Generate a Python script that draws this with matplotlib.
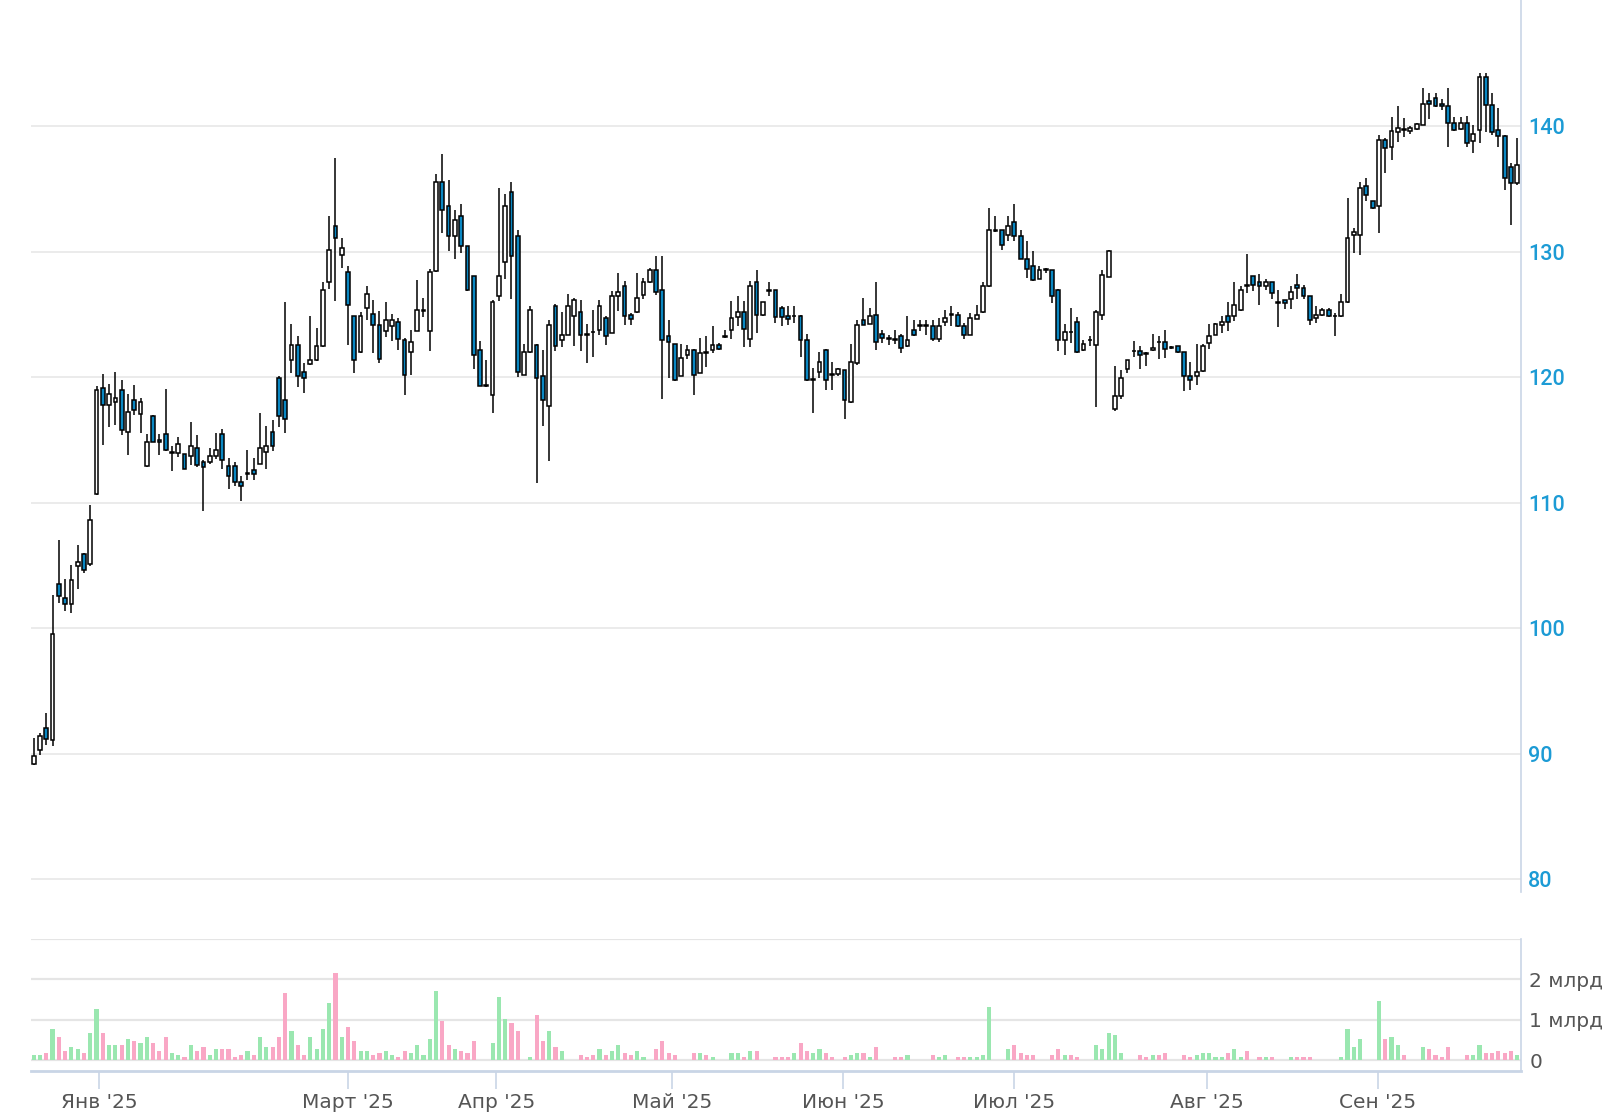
import numpy as np
import matplotlib.pyplot as plt

# daily candles, price in rubles
opens = [89.20, 90.33, 92.08, 91.12, 103.53, 102.42, 101.91, 104.96, 105.92, 105.10,
         110.66, 119.12, 117.82, 118.01, 118.96, 115.62, 118.17, 117.06, 112.89, 116.90,
         114.99, 115.46, 114.00, 113.98, 113.87, 113.71, 114.35, 113.24, 113.24, 113.71,
         115.46, 112.92, 112.92, 111.65, 112.28, 112.60, 113.08, 114.03, 115.62, 119.92,
         118.20, 121.35, 122.60, 120.40, 121.03, 121.40, 122.46, 127.55, 132.01, 129.76,
         128.35, 124.85, 121.99, 125.49, 125.04, 124.19, 123.71, 124.05, 124.37, 122.94,
         121.99, 123.71, 125.30, 123.71, 128.46, 135.51, 133.60, 131.21, 132.81, 130.42,
         128.03, 122.15, 119.30, 118.62, 126.44, 129.15, 134.71, 131.21, 120.21, 121.99,
         122.60, 120.08, 117.69, 125.64, 122.94, 123.39, 124.85, 125.16, 123.40, 123.58,
         123.73, 124.71, 123.52, 126.44, 127.23, 124.98, 125.16, 126.57, 127.55, 128.50,
         126.91, 123.25, 122.64, 120.13, 121.80, 122.14, 120.34, 121.94, 122.14, 122.59,
         123.26, 123.73, 124.79, 125.16, 123.04, 127.55, 124.98, 126.88, 126.91, 125.48,
         124.85, 124.84, 124.90, 122.99, 119.79, 120.39, 122.14, 120.22, 120.29, 120.55,
         118.01, 121.14, 124.53, 124.26, 124.98, 123.47, 123.05, 123.02, 123.31, 122.46,
         123.73, 124.12, 124.12, 124.05, 123.04, 124.37, 124.99, 124.98, 124.05, 123.39,
         124.64, 125.17, 127.23, 131.70, 131.69, 131.34, 132.33, 131.21, 129.41, 128.83,
         127.82, 128.57, 128.51, 126.97, 122.94, 123.58, 124.37, 122.14, 122.95, 122.59,
         124.98, 127.98, 117.48, 118.48, 120.66, 122.07, 122.06, 121.92, 122.14, 122.79,
         122.78, 122.34, 122.46, 121.98, 120.08, 120.08, 120.47, 122.73, 123.39, 124.19,
         124.85, 124.85, 125.33, 127.37, 128.03, 127.55, 127.30, 127.55, 125.92, 126.12,
         126.23, 127.37, 127.10, 126.44, 124.72, 124.98, 125.38, 124.86, 124.85, 125.96,
         131.35, 131.35, 135.19, 134.00, 133.60, 138.91, 138.32, 139.49, 139.71, 139.57,
         139.75, 140.10, 142.03, 142.22, 141.77, 141.56, 140.28, 139.75, 140.28, 138.85,
         139.65, 143.94, 141.69, 139.65, 139.17, 136.73, 135.46]
highs = [91.30, 91.65, 93.22, 102.63, 107.06, 103.90, 105.02, 106.61, 105.97, 109.79,
         119.28, 120.29, 119.49, 120.42, 119.81, 118.70, 119.34, 118.35, 115.49, 116.95,
         115.49, 119.02, 114.51, 115.20, 113.90, 116.47, 115.36, 113.40, 114.35, 115.52,
         115.84, 113.58, 113.26, 112.12, 114.24, 113.58, 117.11, 116.15, 116.63, 120.13,
         125.99, 124.24, 123.26, 121.14, 124.90, 123.92, 127.55, 132.86, 137.45, 131.08,
         128.88, 124.90, 125.17, 127.29, 126.12, 125.25, 125.99, 125.06, 124.72, 123.13,
         123.79, 127.77, 126.31, 128.62, 136.20, 137.79, 135.72, 133.34, 133.81, 130.45,
         128.06, 122.86, 121.40, 126.18, 135.06, 134.61, 135.51, 131.74, 122.68, 125.65,
         122.65, 122.20, 124.58, 125.85, 125.16, 126.65, 126.30, 126.12, 124.26, 125.38,
         126.12, 124.85, 126.83, 128.29, 127.63, 125.11, 128.29, 127.90, 128.69, 129.67,
         129.67, 124.58, 122.67, 122.67, 122.59, 122.25, 123.12, 123.25, 124.05, 122.72,
         123.78, 126.04, 126.49, 126.04, 127.63, 128.50, 125.96, 127.55, 126.95, 125.64,
         125.64, 125.64, 124.95, 123.47, 120.73, 121.98, 122.28, 121.19, 120.70, 120.60,
         122.67, 124.58, 126.31, 125.51, 127.55, 123.73, 123.39, 123.73, 123.47, 124.90,
         124.58, 124.58, 124.53, 124.58, 124.72, 125.32, 125.64, 125.17, 124.32, 125.11,
         125.78, 127.55, 133.47, 132.80, 131.74, 132.80, 133.81, 131.69, 130.81, 130.02,
         128.88, 128.69, 128.55, 127.00, 124.26, 125.51, 124.79, 122.99, 123.26, 125.32,
         128.56, 130.15, 120.87, 120.55, 121.38, 122.86, 122.52, 122.00, 123.47, 123.31,
         123.79, 122.52, 122.50, 122.00, 121.19, 122.67, 122.67, 124.27, 124.30, 124.90,
         125.96, 127.55, 127.29, 129.83, 128.06, 128.24, 127.82, 127.58, 126.97, 126.17,
         127.29, 128.24, 127.37, 126.47, 125.64, 125.51, 125.51, 125.11, 126.65, 134.27,
         131.88, 135.51, 135.86, 134.03, 139.30, 139.04, 140.76, 141.61, 140.63, 139.97,
         140.28, 143.02, 142.62, 142.67, 142.14, 143.02, 140.71, 140.76, 140.82, 140.10,
         144.26, 144.26, 142.62, 141.42, 139.30, 137.05, 139.04]
lows = [89.10, 89.93, 90.72, 90.59, 102.05, 101.38, 101.25, 103.16, 104.43, 105.00,
        110.60, 114.59, 116.02, 116.18, 115.41, 113.82, 117.00, 115.57, 112.85, 114.80,
        113.82, 114.15, 112.52, 113.66, 112.68, 113.02, 112.87, 109.34, 113.05, 113.50,
        112.71, 111.12, 111.33, 110.13, 111.80, 111.80, 113.05, 112.71, 114.14, 116.05,
        115.57, 120.34, 119.23, 118.75, 120.98, 121.27, 122.40, 127.02, 126.04, 128.70,
        122.60, 120.34, 121.95, 124.58, 121.93, 121.14, 123.21, 122.86, 122.20, 118.57,
        120.21, 123.70, 124.80, 122.07, 128.40, 131.48, 130.02, 129.41, 129.89, 126.90,
        120.66, 119.28, 119.25, 117.16, 126.04, 127.82, 126.23, 120.02, 120.18, 121.95,
        111.60, 116.10, 113.31, 122.06, 122.41, 123.35, 122.46, 122.06, 121.13, 121.61,
        123.39, 122.59, 123.50, 125.24, 124.18, 124.18, 125.11, 126.22, 127.50, 126.57,
        118.27, 119.94, 119.72, 120.07, 121.45, 118.61, 120.30, 120.81, 121.93, 122.19,
        123.12, 123.04, 124.05, 122.41, 122.41, 123.52, 124.85, 126.44, 124.31, 124.10,
        124.18, 124.31, 121.61, 119.67, 117.15, 119.94, 119.01, 119.01, 120.07, 116.68,
        117.98, 121.00, 124.15, 124.22, 122.14, 122.73, 122.59, 122.67, 121.93, 122.43,
        123.26, 123.65, 123.39, 122.86, 122.78, 124.05, 124.11, 124.02, 123.04, 123.36,
        124.60, 125.13, 127.20, 131.53, 130.15, 130.81, 130.81, 129.38, 127.90, 127.63,
        127.79, 128.30, 125.91, 122.07, 121.80, 122.73, 121.95, 122.10, 122.51, 117.63,
        124.58, 127.95, 117.29, 118.30, 120.34, 121.61, 120.66, 120.87, 122.06, 121.45,
        121.53, 122.25, 121.95, 118.88, 118.96, 119.41, 120.44, 122.25, 123.36, 123.52,
        123.66, 124.45, 125.30, 126.71, 126.84, 125.78, 126.92, 126.23, 124.00, 125.43,
        125.43, 126.23, 126.23, 124.19, 124.32, 124.90, 124.82, 123.31, 124.82, 125.93,
        129.89, 129.76, 134.00, 133.39, 131.48, 136.25, 137.26, 138.77, 139.12, 139.38,
        139.70, 140.07, 140.55, 141.53, 141.24, 138.32, 139.62, 139.72, 138.32, 137.85,
        138.64, 139.49, 139.30, 138.32, 134.88, 132.14, 135.33]
closes = [89.85, 91.44, 91.17, 99.58, 102.58, 101.91, 103.85, 105.28, 104.65, 108.62,
          118.96, 117.82, 118.65, 118.33, 115.78, 117.21, 117.37, 118.01, 114.83, 114.83,
          114.83, 114.19, 114.06, 114.67, 112.71, 114.51, 113.02, 112.87, 113.71, 114.19,
          113.40, 112.12, 111.65, 111.33, 112.30, 112.28, 114.35, 114.51, 114.51, 116.90,
          116.70, 122.60, 120.08, 119.92, 121.35, 122.46, 126.92, 130.10, 131.05, 130.26,
          125.78, 121.35, 124.85, 126.63, 124.19, 121.46, 124.53, 124.53, 123.05, 120.21,
          122.78, 125.33, 125.36, 128.35, 135.51, 133.28, 131.21, 132.49, 130.42, 126.92,
          121.80, 119.30, 119.35, 125.96, 128.03, 133.60, 129.62, 120.40, 121.99, 125.33,
          119.94, 118.17, 124.19, 122.46, 123.39, 125.64, 126.12, 123.39, 123.38, 123.56,
          125.64, 123.25, 126.44, 126.75, 124.90, 124.63, 126.30, 127.55, 128.50, 126.75,
          122.99, 122.78, 119.75, 121.53, 122.14, 120.21, 121.93, 121.92, 122.59, 122.25,
          123.24, 124.71, 125.16, 123.84, 127.23, 124.98, 125.96, 126.90, 124.79, 124.79,
          124.63, 124.86, 122.94, 119.75, 119.81, 121.19, 119.81, 120.20, 120.66, 118.17,
          121.19, 124.19, 124.19, 124.90, 122.78, 123.12, 123.03, 123.00, 122.33, 122.94,
          123.39, 124.10, 124.10, 123.04, 124.05, 124.72, 124.97, 124.05, 123.39, 124.72,
          124.98, 127.23, 131.69, 131.68, 130.55, 132.01, 131.21, 129.41, 128.61, 127.71,
          128.56, 128.55, 126.44, 122.94, 123.57, 123.56, 121.98, 122.67, 122.93, 125.17,
          128.16, 130.02, 118.48, 119.94, 121.35, 122.05, 121.80, 121.88, 122.33, 122.77,
          122.25, 122.32, 121.98, 120.08, 119.76, 120.39, 122.52, 123.26, 124.27, 124.37,
          124.37, 125.78, 126.92, 127.24, 127.37, 127.29, 127.55, 126.71, 125.90, 125.91,
          126.76, 127.10, 126.44, 124.53, 124.98, 125.33, 124.85, 124.84, 125.96, 131.08,
          131.53, 135.06, 134.53, 133.47, 138.91, 138.24, 139.57, 139.83, 139.69, 139.83,
          140.18, 141.77, 141.77, 141.56, 141.56, 140.28, 139.65, 140.28, 138.69, 139.38,
          143.94, 141.69, 139.49, 139.17, 135.86, 135.46, 136.92]
# volume, billions of rubles
volumes = [0.12, 0.12, 0.17, 0.77, 0.57, 0.22, 0.32, 0.27, 0.17, 0.67,
           1.27, 0.67, 0.37, 0.37, 0.37, 0.52, 0.47, 0.42, 0.57, 0.42,
           0.22, 0.57, 0.17, 0.12, 0.07, 0.37, 0.22, 0.32, 0.12, 0.27,
           0.27, 0.27, 0.07, 0.12, 0.22, 0.12, 0.57, 0.32, 0.32, 0.57,
           1.67, 0.72, 0.37, 0.12, 0.57, 0.27, 0.77, 1.42, 2.17, 0.57,
           0.82, 0.47, 0.22, 0.22, 0.12, 0.17, 0.22, 0.12, 0.07, 0.22,
           0.17, 0.37, 0.12, 0.52, 1.72, 0.97, 0.37, 0.27, 0.22, 0.17,
           0.47, 0.0, 0.0, 0.42, 1.57, 1.02, 0.92, 0.72, 0.0, 0.07,
           1.12, 0.47, 0.72, 0.32, 0.22, 0.0, 0.0, 0.12, 0.07, 0.12,
           0.27, 0.12, 0.22, 0.37, 0.17, 0.12, 0.22, 0.07, 0.0, 0.27,
           0.47, 0.17, 0.12, 0.0, 0.0, 0.17, 0.17, 0.12, 0.07, 0.0,
           0.0, 0.17, 0.17, 0.07, 0.22, 0.22, 0.0, 0.0, 0.07, 0.07,
           0.07, 0.17, 0.42, 0.22, 0.17, 0.27, 0.17, 0.07, 0.0, 0.07,
           0.12, 0.17, 0.17, 0.07, 0.32, 0.0, 0.0, 0.07, 0.07, 0.12,
           0.0, 0.0, 0.0, 0.12, 0.07, 0.12, 0.0, 0.07, 0.07, 0.07,
           0.07, 0.12, 1.32, 0.0, 0.0, 0.27, 0.37, 0.17, 0.12, 0.12,
           0.0, 0.0, 0.12, 0.27, 0.12, 0.12, 0.07, 0.0, 0.0, 0.37,
           0.27, 0.67, 0.62, 0.17, 0.0, 0.0, 0.12, 0.07, 0.12, 0.12,
           0.17, 0.0, 0.0, 0.12, 0.07, 0.12, 0.17, 0.17, 0.07, 0.07,
           0.17, 0.27, 0.07, 0.22, 0.0, 0.07, 0.07, 0.07, 0.0, 0.0,
           0.07, 0.07, 0.07, 0.07, 0.0, 0.0, 0.0, 0.0, 0.07, 0.77,
           0.32, 0.52, 0.0, 0.0, 1.47, 0.52, 0.57, 0.37, 0.12, 0.0,
           0.0, 0.32, 0.27, 0.12, 0.07, 0.32, 0.0, 0.0, 0.12, 0.12,
           0.37, 0.17, 0.17, 0.22, 0.17, 0.22, 0.12]

month_labels = ["Янв '25", "Март '25", "Апр '25", "Май '25",
                "Июн '25", "Июл '25", "Авг '25", "Сен '25"]
month_pos = [10.45, 50.0, 73.6, 101.5, 128.8, 155.9, 186.7, 213.8]

o = np.array(opens)
h = np.array(highs)
l = np.array(lows)
c = np.array(closes)
v = np.array(volumes)
x = np.arange(len(o))
up = c >= o

blue = '#0a87c2'
axis_col = '#c9d5e6'
grid_col = '#e5e5e5'

W, H = 1622, 1117
fig = plt.figure(figsize=(W / 100, H / 100), dpi=100)
ax = fig.add_axes([31 / W, 1 - 892 / H, 1490 / W, 892 / H])
axv = fig.add_axes([31 / W, 1 - 1071 / H, 1490 / W, 132 / H])

# candles
ax.vlines(x, l, h, color='black', lw=1.1, zorder=2)
body_bot = np.minimum(o, c)
body_h = np.maximum(np.abs(c - o), 0.06)
ax.bar(x, body_h, bottom=body_bot, width=0.6,
       color=np.where(up, 'white', blue), edgecolor='black', linewidth=1.1, zorder=3)

ax.set_xlim(-0.43, 236.6)
ax.set_ylim(79.0, 150.04)
ax.set_yticks([80, 90, 100, 110, 120, 130, 140])
ax.grid(axis='y', color=grid_col, lw=1.1)
ax.set_axisbelow(True)
ax.set_xticks([])
ax.yaxis.tick_right()
ax.tick_params(axis='y', length=0, pad=5, labelsize=15.5, labelcolor='#1c9bd5')
for lab in ax.get_yticklabels():
    lab.set_fontfamily('Roboto')
    lab.set_fontweight('medium')
for s in ['top', 'left', 'bottom']:
    ax.spines[s].set_visible(False)
ax.spines['right'].set_color(axis_col)
ax.spines['right'].set_linewidth(1.2)

# volume
axv.bar(x, v, width=0.66, color=np.where(up, '#9ae7b0', '#f9a7c5'), zorder=3)
axv.set_xlim(-0.43, 236.6)
axv.set_ylim(-0.265, 3.0)
axv.set_yticks([0, 1, 2, 3], ['0', '1 млрд', '2 млрд', ''])
axv.grid(axis='y', color=grid_col, lw=1.6)
axv.set_axisbelow(True)
axv.yaxis.tick_right()
axv.tick_params(axis='y', length=0, pad=6, labelsize=14.5, labelcolor='#555555')
axv.set_xticks(month_pos, month_labels)
axv.tick_params(axis='x', length=13, width=1.2, color=axis_col,
                labelsize=14.5, labelcolor='#555555', pad=3)
for s in ['top', 'left']:
    axv.spines[s].set_visible(False)
for s in ['right', 'bottom']:
    axv.spines[s].set_color(axis_col)
axv.spines['right'].set_linewidth(1.2)
axv.spines['bottom'].set_linewidth(2.0)

fig.savefig('out.png', dpi=100)
